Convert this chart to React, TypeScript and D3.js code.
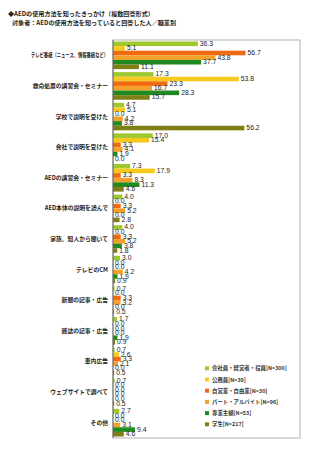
import React from "react";
import * as d3 from "d3";

const categories = [
  "テレビ番組（ニュース、情報番組など）",
  "救命処置の講習会・セミナー",
  "学校で説明を受けた",
  "会社で説明を受けた",
  "AEDの講習会・セミナー",
  "AED本体の説明を読んで",
  "家族、知人から聞いて",
  "テレビのCM",
  "新聞の記事・広告",
  "雑誌の記事・広告",
  "車内広告",
  "ウェブサイトで調べて",
  "その他",
];

const seriesNames = [
  "会社員・経営者・役員[N=300]",
  "公務員[N=39]",
  "自営業・自由業[N=30]",
  "パート・アルバイト[N=96]",
  "専業主婦[N=53]",
  "学生[N=217]",
];

const seriesColors = ["#9dc82e", "#f7c81e", "#f26a10", "#f5a02a", "#1f8a1f", "#7f7f16"];

const kaishain = [36.3, 17.3, 4.7, 17.0, 7.3, 4.0, 4.0, 3.0, 0.7, 1.7, 0.7, 0.7, 2.7];
const koumuin = [5.1, 53.8, 5.1, 15.4, 17.9, 0.0, 0.0, 0.0, 0.0, 0.0, 2.6, 0.0, 0.0];
const jieigyou = [56.7, 23.3, 0.0, 3.3, 3.3, 3.3, 3.3, 0.0, 3.3, 0.0, 3.3, 0.0, 0.0];
const part = [43.8, 16.7, 4.2, 4.1, 8.3, 5.2, 5.2, 4.2, 3.2, 0.0, 2.1, 0.0, 3.1];
const shufu = [37.7, 28.3, 3.8, 1.9, 11.3, 0.0, 3.8, 1.9, 0.0, 1.9, 0.0, 0.0, 9.4];
const gakusei = [11.1, 15.7, 56.2, 0.0, 4.6, 2.8, 1.8, 0.9, 0.5, 0.9, 0.5, 0.5, 4.6];

const seriesValues = [kaishain, koumuin, jieigyou, part, shufu, gakusei];

const titleLines = [
  "◆AEDの使用方法を知ったきっかけ（複数回答形式）",
  "対象者：AEDの使用方法を知っていると回答した人／職業別",
];

export default function App() {
  const W = 313;
  const H = 450;
  const left = 113;
  const right = 300;
  const top = 40;
  const bottom = 438;

  const x = d3.scaleLinear().domain([0, 80]).range([left, right]);
  const y = d3.scaleBand<string>().domain(categories).range([top, bottom]).padding(0);
  const step = y.bandwidth();
  const inner = d3
    .scaleBand<number>()
    .domain(d3.range(seriesNames.length))
    .range([1.5, step - 1.5])
    .padding(0);
  const bh = inner.bandwidth();

  const font = "'Noto Sans CJK JP', 'Noto Sans', sans-serif";
  const numFont = "'Liberation Sans', Arial, sans-serif";

  return (
    <svg width={W} height={H} style={{ position: "absolute", left: 0, top: 0, background: "#fff" }}>
      <rect x={0} y={0} width={W} height={H} fill="#fff" />
      {titleLines.map((t, i) => (
        <text
          key={i}
          x={i === 0 ? 8 : 12}
          y={15.5 + i * 9.3}
          fontSize={6.1}
          fontWeight="bold"
          fontFamily={font}
          fill="#222"
        >
          {t}
        </text>
      ))}

      <rect x={left} y={top} width={right - left} height={bottom - top} fill="none" stroke="#b4b4b4" strokeWidth={1} />

      {categories.map((c, ci) => (
        <g key={c}>
          {seriesValues.map((vals, si) => {
            const v = vals[ci];
            const yy = (y(c) as number) + (inner(si) as number);
            return (
              <rect key={si} x={x(0)} y={yy} width={Math.max(0, x(v) - x(0))} height={bh} fill={seriesColors[si]} />
            );
          })}
        </g>
      ))}

      <line x1={left} x2={left} y1={top} y2={bottom} stroke="#666" strokeWidth={1} />

      {categories.map((c, ci) => (
        <g key={"l" + c}>
          {seriesValues.map((vals, si) => {
            const v = vals[ci];
            const yy = (y(c) as number) + (inner(si) as number) + bh / 2;
            return (
              <text
                key={si}
                x={x(v) + 2}
                y={yy + 2}
                fontSize={6.8}
                fontFamily={numFont}
                fill="#222"
              >
                {v.toFixed(1)}
              </text>
            );
          })}
          <text
            x={108}
            y={(y(c) as number) + step / 2 + 2}
            textAnchor="end"
            fontSize={5.8}
            fontWeight="bold"
            fontFamily={font}
            fill="#222"
            {...(ci === 0 ? { textLength: 77, lengthAdjust: "spacingAndGlyphs" } : {})}
          >
            {c}
          </text>
        </g>
      ))}

      {seriesNames.map((s, i) => (
        <g key={s} transform={`translate(205, ${368.3 + i * 11.2})`}>
          <rect x={0} y={-2} width={4} height={4} fill={seriesColors[i]} />
          <text x={7} y={2} fontSize={5.4} fontFamily={font} fontWeight="bold" fill="#333">
            {s}
          </text>
        </g>
      ))}
    </svg>
  );
}
